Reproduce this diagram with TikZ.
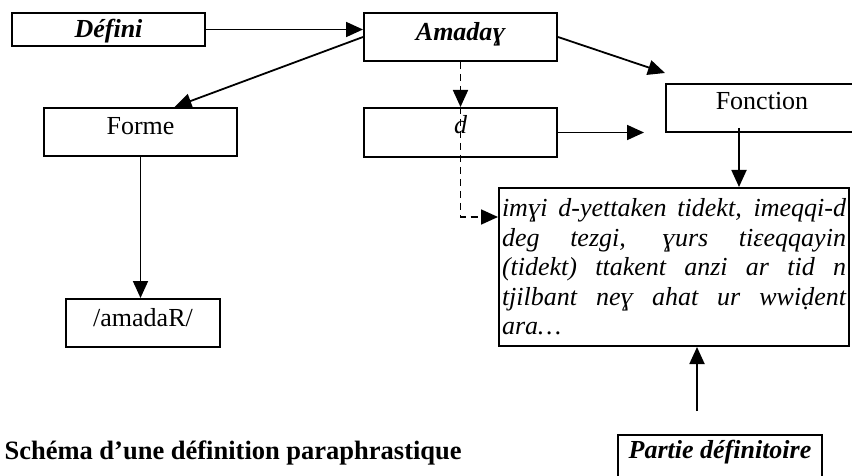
\documentclass[tikz,border=0pt]{standalone}
\usepackage{fontspec}
\setmainfont{Liberation Serif}
\usetikzlibrary{arrows.meta}

\begin{document}
\begin{tikzpicture}[x=1pt,y=-1pt,
  cadre/.style={draw,line width=2pt,inner sep=0pt,minimum width=193pt,anchor=north,
    text height=27pt,text depth=21pt,font=\fontsize{26}{30}\selectfont},
  gras/.style={font=\fontsize{26}{30}\selectfont\bfseries\itshape},
  fl/.style={line width=1.8pt,-{Triangle[length=17pt,width=15pt]}},
  tirets/.style={fl,dash pattern=on 7pt off 5pt}]
  \useasboundingbox (0,0) rectangle (852,476);
  \clip (0,0) rectangle (852,476);

  \node[cadre,gras,text height=25pt,text depth=8pt] (defini) at (108.5,12) {Défini};
  \node[cadre,gras,text height=28pt,text depth=20pt] (amadag) at (460.5,12) {Amadaɣ};
  \node[cadre] (forme) at (140.5,107) {Forme};
  \node[cadre,font=\fontsize{26}{30}\selectfont\itshape,text height=26pt,text depth=23pt] (dbox) at (460.5,107) {d};
  \node[cadre,minimum width=192pt,text height=26pt,text depth=22pt] (fonction) at (762,83) {Fonction};
  \node[cadre,minimum width=154pt] (amadaR) at (143,298) {/amadaR/};
  \node[cadre,gras,minimum width=204pt,text height=23pt,text depth=25pt] (partie) at (720,434) {Partie définitoire};
  \node[draw,line width=2pt,inner sep=0pt,anchor=north west,minimum width=350pt,minimum height=158pt,
    align=left,font=\fontsize{26}{29.5}\selectfont\itshape] (texte) at (498,187)
    {\makebox[344pt][s]{imɣi d-yettaken tidekt, imeqqi-d}\\
     \makebox[344pt][s]{deg tezgi, ɣurs tiɛeqqayin}\\
     \makebox[344pt][s]{(tidekt) ttakent anzi ar tid n}\\
     \makebox[344pt][s]{tjilbant neɣ ahat ur wwiḍent}\\
     ara…};
  \node[anchor=base west,font=\fontsize{26.5}{30}\selectfont\bfseries] (titre) at (1,459)
    {Schéma d’une définition paraphrastique};

  \coordinate (bout) at ([xshift=-21pt]fonction.south west);
  \coordinate (f1) at ([xshift=-23pt,yshift=5pt]fonction.south);
  \coordinate (p1) at ([xshift=-23pt,yshift=23pt]partie.north);

  \draw[fl] (defini.east) -- (defini.east -| amadag.west);
  \draw[fl] (amadag.west) -- ([xshift=34pt]forme.north);
  \draw[fl] (amadag.east) -- ([yshift=10pt]fonction.north west);
  \draw[tirets] (amadag.south) -- (dbox.north);
  \draw[tirets] (dbox.north) |- ([yshift=-30pt]texte.north west);
  \draw[fl] (dbox.east) -- (dbox.east -| bout);
  \draw[fl] (f1) -- (f1 |- texte.north);
  \draw[fl] (forme.south) -- (forme.south |- amadaR.north);
  \draw[fl] (p1) -- (p1 |- texte.south);
\end{tikzpicture}
\end{document}
